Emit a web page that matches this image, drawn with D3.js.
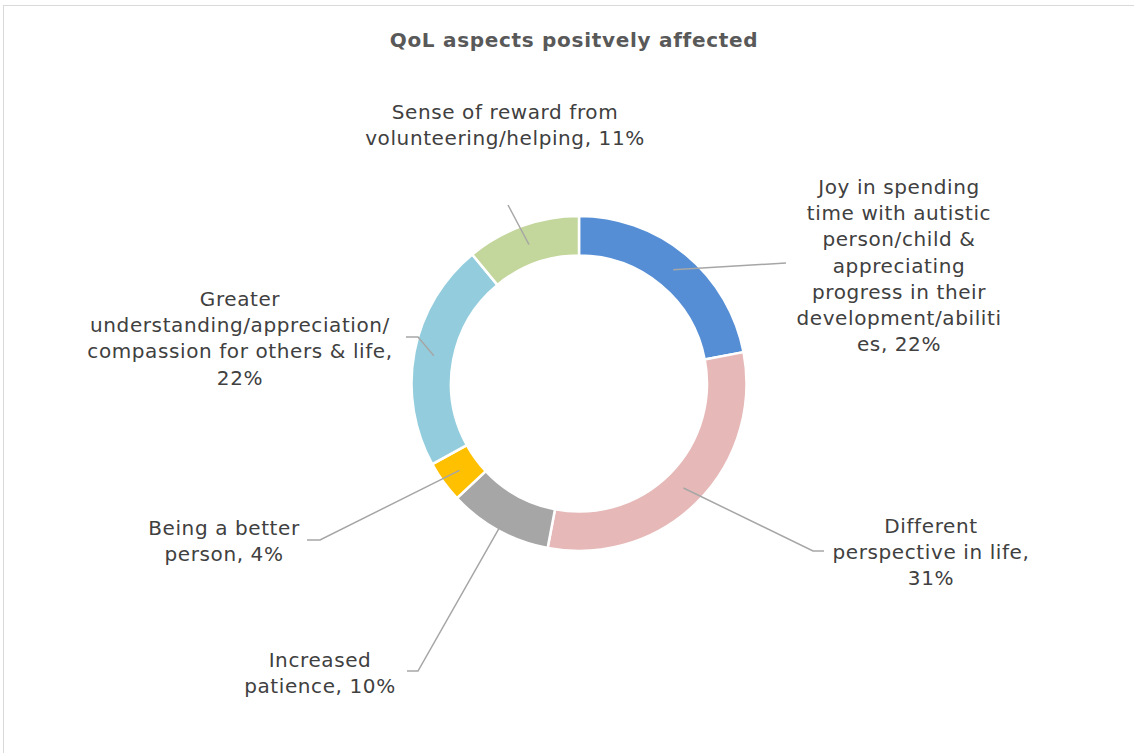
<!DOCTYPE html>
<html>
<head>
<meta charset="utf-8">
<script src="https://cdn.jsdelivr.net/npm/d3@7"></script>
<style>
  html, body { margin: 0; padding: 0; background: #fff; }
  svg { display: block; }
</style>
</head>
<body>
<svg id="chart" width="1134" height="753"></svg>
<script>
// Share of respondents per quality-of-life aspect (percent)
const categories = [
  "Joy in spending time with autistic person/child & appreciating progress in their development/abilities",
  "Different perspective in life",
  "Increased patience",
  "Being a better person",
  "Greater understanding/appreciation/compassion for others & life",
  "Sense of reward from volunteering/helping"
];
const values = [22, 31, 10, 4, 22, 11];
const colors = ["#558ED5", "#E6B9B8", "#A6A6A6", "#FFC000", "#93CDDD", "#C3D69B"];

// Wrapped label lines, as they are set on the chart
const labelLines = [
  ["Joy in spending", "time with autistic", "person/child &", "appreciating", "progress in their", "development/abiliti", "es, 22%"],
  ["Different", "perspective in life,", "31%"],
  ["Increased", "patience, 10%"],
  ["Being a better", "person, 4%"],
  ["Greater", "understanding/appreciation/", "compassion for others & life,", "22%"],
  ["Sense of reward from", "volunteering/helping, 11%"]
];

// Label placement: text centre x, first baseline y, leader elbow and leader end
const labelLayout = [
  { x: 899, y: 194, elbow: [786, 263], end: [786, 263] },
  { x: 931, y: 533, elbow: [813, 551], end: [824, 551] },
  { x: 320, y: 667, elbow: [418, 671], end: [407, 671] },
  { x: 224, y: 535, elbow: [320, 540], end: [307, 540] },
  { x: 240, y: 306, elbow: [418, 337], end: [406, 337] },
  { x: 505, y: 119, elbow: [508, 205], end: [508, 205] }
];

const svg = d3.select("#chart");
const W = 1134, H = 753;

// outer frame
svg.append("rect")
  .attr("x", 3.5).attr("y", 5.5)
  .attr("width", W + 20).attr("height", H + 20)
  .attr("fill", "#fff").attr("stroke", "#d9d9d9").attr("stroke-width", 1);

// title
svg.append("text")
  .attr("x", 574).attr("y", 47)
  .attr("text-anchor", "middle")
  .attr("font-family", "'DejaVu Sans', Verdana, sans-serif")
  .attr("font-weight", "bold")
  .attr("font-size", 20)
  .attr("letter-spacing", 0.7)
  .attr("fill", "#595959")
  .text("QoL aspects positvely affected");

const cx = 579, cy = 383.5;
const outerR = 167.5, innerR = 128;
const midR = (outerR + innerR) / 2;

const pie = d3.pie().sort(null).value(d => d)
  .startAngle(0).endAngle(2 * Math.PI);
const arcs = pie(values);

const arc = d3.arc().innerRadius(innerR).outerRadius(outerR);
const midArc = d3.arc().innerRadius(midR).outerRadius(midR);

const g = svg.append("g").attr("transform", `translate(${cx},${cy})`);

g.selectAll("path.slice")
  .data(arcs)
  .join("path")
  .attr("class", "slice")
  .attr("d", arc)
  .attr("fill", (d, i) => colors[i])
  .attr("stroke", "#fff")
  .attr("stroke-width", 2.5)
  .attr("stroke-linejoin", "miter");

// leader lines from the middle of each ring segment to its label
const leaders = svg.append("g");
arcs.forEach((a, i) => {
  const c = midArc.centroid(a);
  const L = labelLayout[i];
  const pts = [[cx + c[0], cy + c[1]], L.elbow, L.end];
  leaders.append("path")
    .attr("d", d3.line()(pts))
    .attr("fill", "none")
    .attr("stroke", "#A6A6A6")
    .attr("stroke-width", 1.5);
});

// labels
const labels = svg.append("g")
  .attr("font-family", "'DejaVu Sans', Verdana, sans-serif")
  .attr("font-size", 20)
  .attr("letter-spacing", 0.6)
  .attr("fill", "#404040")
  .attr("text-anchor", "middle");

labelLines.forEach((lines, i) => {
  const L = labelLayout[i];
  const t = labels.append("text");
  lines.forEach((ln, j) => {
    t.append("tspan")
      .attr("x", L.x)
      .attr("y", L.y + j * 26.2)
      .text(ln);
  });
});
</script>
</body>
</html>
